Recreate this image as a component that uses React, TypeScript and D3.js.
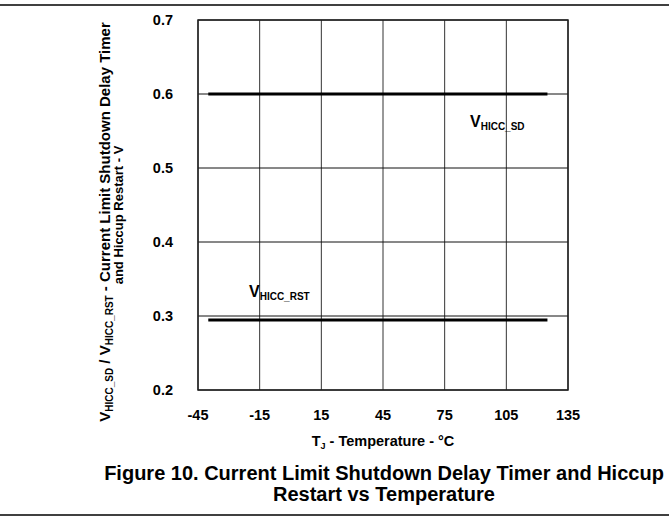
import React from "react";
import * as d3 from "d3";

// temperature sweep and the two thresholds
const temps = [-40, 125];
const vHiccSd = [0.6, 0.6];
const vHiccRst = [0.296, 0.296];

const xTicks = [-45, -15, 15, 45, 75, 105, 135];
const yTicks = [0.2, 0.3, 0.4, 0.5, 0.6, 0.7];

const W = 669;
const H = 519;
const font = "'Liberation Sans', Arial, sans-serif";

export default function App() {
  const x = d3.scaleLinear().domain([-45, 135]).range([198, 568]);
  const y = d3.scaleLinear().domain([0.2, 0.7]).range([390, 20]);

  const line = d3
    .line<[number, number]>()
    .x((d) => x(d[0]))
    .y((d) => y(d[1]));

  const sd = line(temps.map((t, i) => [t, vHiccSd[i]]) as [number, number][]);
  const rst = line(temps.map((t, i) => [t, vHiccRst[i]]) as [number, number][]);

  return (
    <svg
      width={W}
      height={H}
      style={{ position: "absolute", left: 0, top: 0, background: "#fff" }}
      fontFamily={font}
      fontWeight="bold"
    >
      <line x1={0} x2={W} y1={5} y2={5} stroke="#000" strokeWidth={1.5} />

      {/* grid */}
      {xTicks.map((t) => (
        <line key={"gx" + t} x1={x(t)} x2={x(t)} y1={y(0.7)} y2={y(0.2)} stroke="#333" strokeWidth={1} />
      ))}
      {yTicks.map((t) => (
        <line key={"gy" + t} x1={x(-45)} x2={x(135)} y1={y(t)} y2={y(t)} stroke="#111" strokeWidth={1} />
      ))}
      <rect x={x(-45)} y={y(0.7)} width={x(135) - x(-45)} height={y(0.2) - y(0.7)} fill="none" stroke="#222" strokeWidth={1.5} />

      {/* data */}
      <path d={sd ?? ""} stroke="#000" strokeWidth={3} fill="none" />
      <path d={rst ?? ""} stroke="#000" strokeWidth={3} fill="none" transform="translate(0,1)" />

      {/* tick labels */}
      {yTicks.map((t) => (
        <text key={"ly" + t} x={173} y={y(t)} dy="0.35em" textAnchor="end" fontSize={14.5}>
          {d3.format(".1f")(t)}
        </text>
      ))}
      {xTicks.map((t) => (
        <text key={"lx" + t} x={x(t)} y={420} textAnchor="middle" fontSize={14.5}>
          {t}
        </text>
      ))}

      {/* series labels */}
      <text x={470} y={127} fontSize={16}>
        V<tspan fontSize={10} dy={3}>HICC_SD</tspan>
      </text>
      <text x={249} y={297} fontSize={16}>
        V<tspan fontSize={10} dy={3}>HICC_RST</tspan>
      </text>

      {/* x axis title */}
      <text x={383} y={446} textAnchor="middle" fontSize={14.5}>
        T<tspan fontSize={9} dy={3}>J</tspan>
        <tspan dy={-3}> - Temperature - °C</tspan>
      </text>

      {/* y axis title */}
      <g transform="translate(110,222) rotate(-90)">
        <text x={0} y={0} textAnchor="middle" fontSize={15}>
          V<tspan fontSize={10} dy={3}>HICC_SD</tspan>
          <tspan dy={-3}> / V</tspan>
          <tspan fontSize={10} dy={3}>HICC_RST</tspan>
          <tspan dy={-3}> - Current Limit Shutdown Delay Timer</tspan>
        </text>
      </g>
      <g transform="translate(123,215) rotate(-90)">
        <text x={0} y={0} textAnchor="middle" fontSize={13}>
          and Hiccup Restart - V
        </text>
      </g>

      {/* caption */}
      <text x={384} y={480} textAnchor="middle" fontSize={20}>
        Figure 10. Current Limit Shutdown Delay Timer and Hiccup
      </text>
      <text x={384} y={501} textAnchor="middle" fontSize={20}>
        Restart vs Temperature
      </text>
      <line x1={0} x2={W} y1={515} y2={515} stroke="#000" strokeWidth={1.5} />
    </svg>
  );
}
